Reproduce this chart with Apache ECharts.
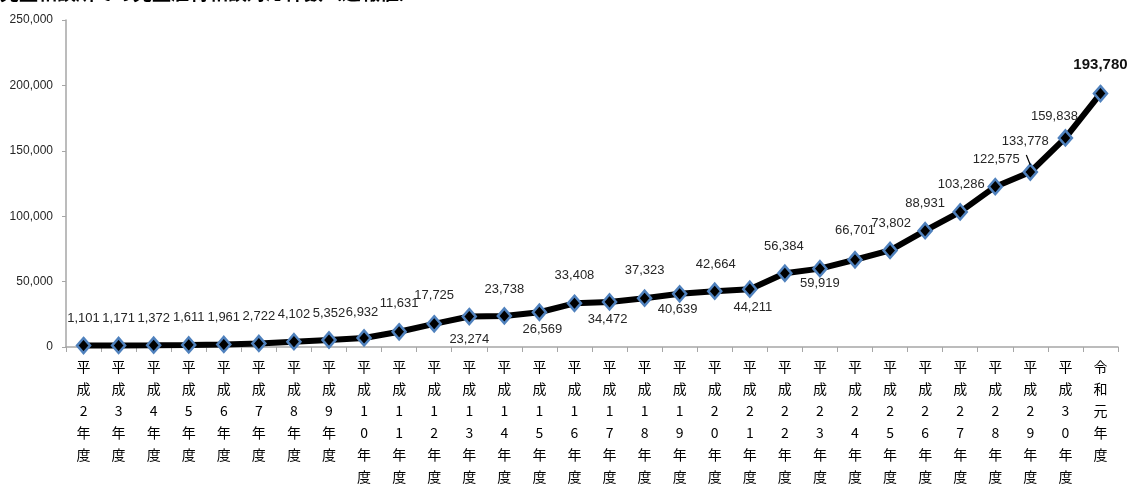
<!DOCTYPE html>
<html>
<head>
<meta charset="utf-8">
<script src="https://cdn.jsdelivr.net/npm/echarts@6/dist/echarts.min.js"></script>
<style>
html,body{margin:0;padding:0;background:#fff;}
#chart{width:1129px;height:488px;}
</style>
</head>
<body>
<div id="chart"></div>
<script>
const titleText = '児童相談所での児童虐待相談対応件数（速報値）';
const categories = ['平成2年度','平成3年度','平成4年度','平成5年度','平成6年度','平成7年度','平成8年度','平成9年度','平成10年度','平成11年度','平成12年度','平成13年度','平成14年度','平成15年度','平成16年度','平成17年度','平成18年度','平成19年度','平成20年度','平成21年度','平成22年度','平成23年度','平成24年度','平成25年度','平成26年度','平成27年度','平成28年度','平成29年度','平成30年度','令和元年度'];
const counts = [1101,1171,1372,1611,1961,2722,4102,5352,6932,11631,17725,23274,23738,26569,33408,34472,37323,40639,42664,44211,56384,59919,66701,73802,88931,103286,122575,133778,159838,193780];
const yTicks = [0,50000,100000,150000,200000,250000];

// label placement (style): offset of label centre relative to its point
const labelOffsets = [
  [0,-27],[0,-27],[0,-27],[0,-27],[0,-27],[0,-27],[0,-27],[0,-27],[-2,-26],[0,-28],
  [0,-28],[0,23],[0,-27],[3,17],[0,-28],[-2,18],[0,-28],[-2,16],[1,-27],[3,18],
  [-1,-27],[0,15],[0,-29],[1,-27],[0,-27],[1,-27],[1,-27],[-5,-31],[-11,-22],[0,-29]
];
const numFont = "'Liberation Sans', Arial, sans-serif";
const cjkFont = "'Noto Sans CJK JP',sans-serif";
const fmt = v => v.toLocaleString('en-US');
const titleGraphic = {
  type: 'text',
  x: 0,
  y: 2,
  style: {
    text: titleText,
    font: "bold 19px 'Noto Sans CJK JP', sans-serif",
    fill: '#000',
    verticalAlign: 'bottom',
    align: 'left'
  }
};

const seriesData = counts.map((v, i) => {
  const item = { value: v };
  const last = i === counts.length - 1;
  item.label = {
    show: true,
    position: 'inside',
    offset: labelOffsets[i],
    formatter: fmt(v),
    fontFamily: numFont,
    fontSize: last ? 15 : 13,
    fontWeight: last ? 'bold' : 'normal',
    color: last ? '#111' : '#262626'
  };
  return item;
});

const chart = echarts.init(document.getElementById('chart'), null, { renderer: 'canvas' });
chart.setOption({
  animation: false,
  backgroundColor: '#fff',
  grid: { left: 66, right: 11, top: 20, bottom: 137, containLabel: false },
  xAxis: {
    type: 'category',
    data: categories,
    boundaryGap: true,
    axisLine: { show: true, lineStyle: { color: '#a6a6a6', width: 1.5 } },
    axisTick: { show: true, length: 5, lineStyle: { color: '#a6a6a6' } },
    axisLabel: {
      interval: 0,
      margin: 9,
      fontFamily: cjkFont,
      fontSize: 14,
      lineHeight: 22,
      color: '#000',
      formatter: v => v.split('').join('\n')
    },
    splitLine: { show: false }
  },
  yAxis: {
    type: 'value',
    min: yTicks[0],
    max: yTicks[yTicks.length - 1],
    interval: yTicks[1] - yTicks[0],
    axisLine: { show: true, lineStyle: { color: '#a6a6a6', width: 1.5 } },
    axisTick: { show: true, length: 4, lineStyle: { color: '#a6a6a6' } },
    axisLabel: {
      margin: 13,
      fontFamily: numFont,
      fontSize: 12,
      color: '#262626',
      formatter: v => fmt(v)
    },
    splitLine: { show: false }
  },
  series: [{
    type: 'line',
    data: seriesData,
    symbol: 'diamond',
    symbolSize: [13, 15],
    lineStyle: { color: '#000', width: 6 },
    itemStyle: { color: '#000', borderColor: '#4f81bd', borderWidth: 2.5 },
    z: 3
  }]
});

// title (cut off at the top) and leader line for the 133,778 label, placed through the axis scale
const li = 27;
const p = chart.convertToPixel({ seriesIndex: 0 }, [li, counts[li]]);
chart.setOption({
  graphic: [titleGraphic, {
    type: 'line',
    shape: { x1: p[0] - 4, y1: p[1] - 17, x2: p[0], y2: p[1] - 7 },
    style: { stroke: '#000', lineWidth: 1.2 },
    z: 10
  }]
});
</script>
</body>
</html>
